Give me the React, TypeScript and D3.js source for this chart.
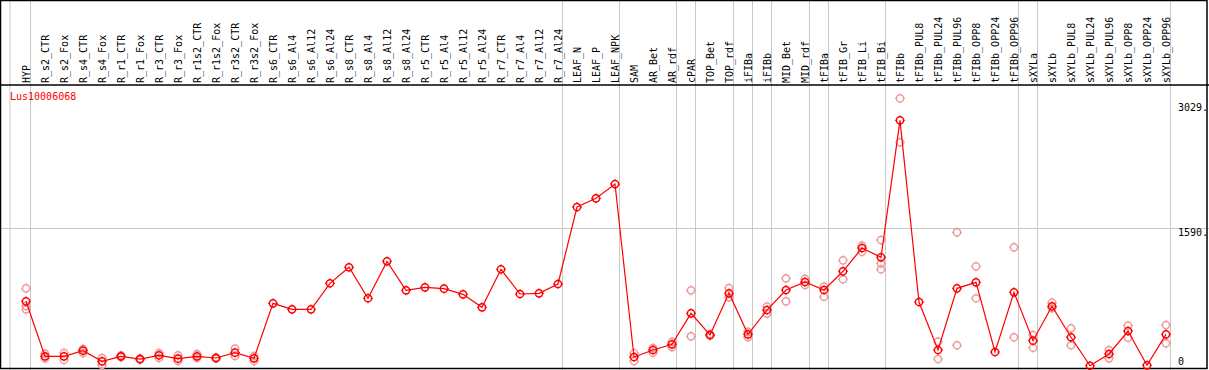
import React, { useEffect, useRef } from "react";
import * as d3 from "d3";

// sample groups (a gray separator is drawn after each group)
const groups: string[][] = [
  ["HYP"],
  [
    "R_s2_CTR", "R_s2_Fox", "R_s4_CTR", "R_s4_Fox", "R_r1_CTR", "R_r1_Fox",
    "R_r3_CTR", "R_r3_Fox", "R_r1s2_CTR", "R_r1s2_Fox", "R_r3s2_CTR", "R_r3s2_Fox",
    "R_s6_CTR", "R_s6_Al4", "R_s6_Al12", "R_s6_Al24", "R_s8_CTR", "R_s8_Al4",
    "R_s8_Al12", "R_s8_Al24", "R_r5_CTR", "R_r5_Al4", "R_r5_Al12", "R_r5_Al24",
    "R_r7_CTR", "R_r7_Al4", "R_r7_Al12", "R_r7_Al24",
  ],
  ["LEAF_N", "LEAF_P", "LEAF_NPK"],
  ["SAM", "AR_Bet", "AR_rdf"],
  ["cPAR"],
  ["TOP_Bet", "TOP_rdf"],
  ["iFIBa"],
  ["iFIBb"],
  ["MID_Bet", "MID_rdf"],
  ["tFIBa"],
  ["tFIB_Gr", "tFIB_Li", "tFIB_Bi"],
  ["tFIBb", "tFIBb_PUL8", "tFIBb_PUL24", "tFIBb_PUL96", "tFIBb_OPP8", "tFIBb_OPP24", "tFIBb_OPP96"],
  ["sXYLa"],
  ["sXYLb", "sXYLb_PUL8", "sXYLb_PUL24", "sXYLb_PUL96", "sXYLb_OPP8", "sXYLb_OPP24", "sXYLb_OPP96"],
];

const samples = groups.flat();

// mean expression per sample
const means = [
  751, 119, 119, 184, 62, 119, 88, 131, 92, 119, 100, 161, 96,
  728, 659, 659, 958, 1142, 786, 1210, 877, 912, 896, 831, 682,
  1119, 835, 843, 950, 1834, 1934, 2098, 111, 192, 257, 613, 364,
  843, 372, 651, 881, 973, 881, 1096, 1363, 1256, 2830, 743, 192,
  900, 969, 169, 854, 299, 694, 338, 11, 146, 410, 16, 372,
];

// replicate values (empty = hidden behind the mean marker)
const replicates: number[][] = [
  [900, 697, 659], [150, 95], [160, 77], [203, 157], [100, 20], [130, 108],
  [95, 80], [157, 100], [130, 65], [145, 100], [108, 92], [207, 123], [123, 65],
  [], [], [], [], [], [], [], [], [], [], [], [], [], [], [], [],
  [], [], [],
  [65, 155], [215, 160], [285, 225],
  [877, 349],
  [375, 355], [904, 797],
  [400, 340],
  [690, 610],
  [1015, 751], [1008, 938],
  [919, 804],
  [1222, 1004], [1390, 1320], [1455, 1187, 1119],
  [3082, 2577], [], [287, 88], [1543, 246], [1153, 786], [], [1371, 338],
  [364, 218],
  [735, 671], [441, 246], [], [192, 96], [471, 333], [], [479, 269],
];

const yTicks = [3029, 1590, 0];
const geneId = "Lus10006068";

const W = 1209;
const H = 370;
const FONT = "'DejaVu Sans Mono', monospace";

export default function App() {
  const svgRef = useRef<SVGSVGElement>(null);

  useEffect(() => {
    if (!svgRef.current) return;
    const svg = d3.select(svgRef.current);
    svg.selectAll("*").remove();

    const headerY = 85;
    const x = d3.scalePoint<string>().domain(samples).range([26, 1166]);
    const y = d3.scaleLinear().domain([0, 3029]).range([366.7, 103]);

    svg.append("rect")
      .attr("width", W)
      .attr("height", H)
      .attr("fill", "#fff");

    // group separators
    const seps = [x(samples[0])! - 16, ...groups.map((g) => x(g[g.length - 1])! + 4.5)];
    svg.append("g")
      .selectAll("line")
      .data(seps)
      .join("line")
      .attr("x1", (d) => d)
      .attr("x2", (d) => d)
      .attr("y1", 0)
      .attr("y2", H)
      .attr("stroke", "#c8c8c8")
      .attr("stroke-width", 1);

    // horizontal grid at middle tick
    svg.append("line")
      .attr("x1", 0)
      .attr("x2", W)
      .attr("y1", Math.round(y(1590)) + 0.5)
      .attr("y2", Math.round(y(1590)) + 0.5)
      .attr("stroke", "#c8c8c8");

    // frame + header divider
    svg.append("rect")
      .attr("x", 0.5)
      .attr("y", 0.5)
      .attr("width", W - 2.5)
      .attr("height", H - 2)
      .attr("fill", "none")
      .attr("stroke", "#000")
      .attr("stroke-width", 1.5);
    svg.append("line")
      .attr("x1", 0)
      .attr("x2", W)
      .attr("y1", headerY)
      .attr("y2", headerY)
      .attr("stroke", "#000")
      .attr("stroke-width", 1.5);

    // sample labels
    svg.append("g")
      .selectAll("text")
      .data(samples)
      .join("text")
      .attr("transform", (d) => `translate(${x(d)! + 4},${headerY - 2}) rotate(-90)`)
      .style("font-family", FONT)
      .style("font-size", "10px")
      .attr("fill", "#000")
      .text((d) => d);

    // y tick labels on the right
    svg.append("g")
      .selectAll("text")
      .data(yTicks)
      .join("text")
      .attr("x", 1178)
      .attr("y", (d) => (d === 0 ? H - 5 : y(d) + 8))
      .style("font-family", FONT)
      .style("font-size", "10px")
      .attr("fill", "#000")
      .text((d) => (d === 0 ? "0" : `${d}.`));

    svg.append("text")
      .attr("x", 10)
      .attr("y", 100)
      .style("font-family", FONT)
      .style("font-size", "10px")
      .attr("fill", "#ff0000")
      .text(geneId);

    const marker = (
      sel: d3.Selection<SVGGElement, unknown, null, undefined>,
      pts: [number, number][],
      color: string
    ) => {
      const g = sel.selectAll("g.m").data(pts).join("g").attr("class", "m")
        .attr("transform", (d) => `translate(${d[0]},${d[1]})`);
      g.append("circle")
        .attr("r", 3.6)
        .attr("fill", "none")
        .attr("stroke", color)
        .attr("stroke-width", 1.5);
      [[0, -1], [0, 1], [-1, 0], [1, 0]].forEach(([dx, dy]) => {
        g.append("line")
          .attr("x1", dx * 3.5)
          .attr("y1", dy * 3.5)
          .attr("x2", dx * 5)
          .attr("y2", dy * 5)
          .attr("stroke", color)
          .attr("stroke-width", 1);
      });
    };

    // replicates
    const repPts: [number, number][] = [];
    replicates.forEach((reps, i) =>
      reps.forEach((v) => repPts.push([x(samples[i])!, y(v)]))
    );
    marker(svg.append("g"), repPts, "#ee9a9a");

    // mean line
    const line = d3.line<number>()
      .x((_, i) => x(samples[i])!)
      .y((d) => y(d));
    svg.append("path")
      .datum(means)
      .attr("d", line)
      .attr("fill", "none")
      .attr("stroke", "#ff0000")
      .attr("stroke-width", 1.2);

    marker(svg.append("g"), means.map((v, i) => [x(samples[i])!, y(v)] as [number, number]), "#ff0000");
  }, []);

  return (
    <div style={{ position: "absolute", left: 0, top: 0 }}>
      <svg ref={svgRef} width={W} height={H} style={{ display: "block" }} />
    </div>
  );
}
